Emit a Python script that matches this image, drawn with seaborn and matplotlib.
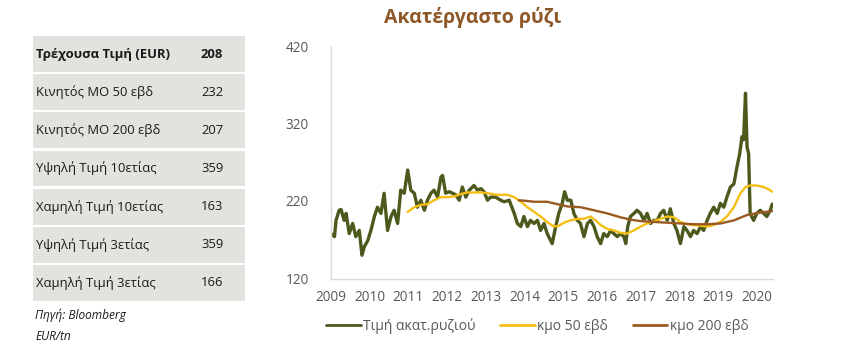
import numpy as np
import pandas as pd
import seaborn as sns
import matplotlib
matplotlib.use("Agg")
import matplotlib.pyplot as plt
from matplotlib.lines import Line2D

# ---------------- data ----------------
price_t = [2009.00, 2009.09, 2009.13, 2009.21, 2009.26, 2009.34, 2009.39, 2009.47, 2009.56, 2009.64,
           2009.73, 2009.80, 2009.86, 2009.95, 2010.03, 2010.12, 2010.20, 2010.29, 2010.37, 2010.46,
           2010.55, 2010.63, 2010.72, 2010.80, 2010.89, 2010.98, 2011.06, 2011.15, 2011.23, 2011.32,
           2011.41, 2011.49, 2011.58, 2011.66, 2011.75, 2011.84, 2011.88, 2011.96, 2012.05, 2012.14,
           2012.22, 2012.31, 2012.39, 2012.48, 2012.57, 2012.69, 2012.78, 2012.87, 2012.95, 2013.04,
           2013.12, 2013.25, 2013.38, 2013.47, 2013.60, 2013.73, 2013.81, 2013.90, 2013.98, 2014.07,
           2014.15, 2014.24, 2014.33, 2014.41, 2014.50, 2014.58, 2014.67, 2014.71, 2014.80, 2014.88,
           2014.97, 2015.03, 2015.10, 2015.19, 2015.27, 2015.36, 2015.44, 2015.53, 2015.62, 2015.70,
           2015.79, 2015.87, 2015.96, 2016.04, 2016.13, 2016.22, 2016.30, 2016.39, 2016.47, 2016.56,
           2016.61, 2016.66, 2016.73, 2016.82, 2016.90, 2016.99, 2017.08, 2017.16, 2017.25, 2017.33,
           2017.42, 2017.51, 2017.59, 2017.68, 2017.76, 2017.85, 2017.93, 2018.02, 2018.11, 2018.19,
           2018.28, 2018.36, 2018.45, 2018.54, 2018.62, 2018.71, 2018.79, 2018.88, 2018.97, 2019.05,
           2019.14, 2019.22, 2019.31, 2019.40, 2019.48, 2019.55, 2019.61, 2019.65, 2019.70, 2019.74,
           2019.78, 2019.82, 2019.91, 2019.99, 2020.08, 2020.17, 2020.25, 2020.34, 2020.39]
price_v = [178, 174, 195, 208, 209, 195, 204, 178, 191, 174,
           182, 150, 161, 169, 182, 200, 212, 204, 230, 182,
           200, 208, 191, 234, 230, 260, 234, 230, 212, 221,
           208, 221, 230, 234, 225, 251, 253, 230, 232, 230,
           228, 221, 238, 225, 234, 240, 234, 236, 232, 221,
           225, 225, 221, 219, 221, 204, 191, 187, 200, 187,
           195, 191, 195, 182, 191, 178, 169, 165, 187, 204,
           217, 232, 221, 221, 204, 195, 191, 174, 191, 195,
           187, 174, 165, 178, 174, 182, 178, 174, 178, 174,
           165, 187, 200, 204, 208, 204, 195, 204, 191, 195,
           195, 204, 208, 195, 210, 191, 182, 165, 187, 182,
           174, 182, 178, 187, 182, 195, 204, 212, 204, 217,
           212, 225, 238, 242, 264, 281, 303, 299, 359, 290,
           281, 204, 195, 204, 208, 204, 200, 208, 216]

ma50_t = [2010.98, 2011.15, 2011.32, 2011.49, 2011.66, 2011.84, 2012.01, 2012.18, 2012.35, 2012.52,
          2012.69, 2012.87, 2013.04, 2013.29, 2013.55, 2013.73, 2013.90, 2014.07, 2014.24, 2014.41,
          2014.58, 2014.75, 2014.88, 2015.01, 2015.18, 2015.36, 2015.53, 2015.70, 2015.83, 2015.96,
          2016.13, 2016.30, 2016.47, 2016.64, 2016.82, 2016.99, 2017.16, 2017.33, 2017.51, 2017.68,
          2017.85, 2018.02, 2018.19, 2018.36, 2018.54, 2018.71, 2018.88, 2019.05, 2019.22, 2019.40,
          2019.57, 2019.70, 2019.82, 2019.99, 2020.17, 2020.30, 2020.39]
ma50_v = [206, 212, 215, 216, 221, 225, 225, 226, 229, 231,
          231, 231, 230, 228, 228, 225, 219, 212, 206, 200,
          193, 187, 188, 192, 195, 197, 197, 200, 195, 189,
          184, 182, 179, 178, 182, 187, 191, 194, 197, 200,
          199, 193, 190, 189, 188, 187, 189, 193, 200, 212,
          230, 238, 240, 240, 238, 235, 232]

ma200_t = [2013.85, 2014.07, 2014.24, 2014.58, 2014.84, 2015.10, 2015.44, 2015.79, 2016.13, 2016.47,
           2016.73, 2016.99, 2017.33, 2017.68, 2018.02, 2018.36, 2018.71, 2019.05, 2019.40, 2019.74,
           2020.08, 2020.39]
ma200_v = [221, 220, 219, 219, 216, 213, 212, 208, 204, 199,
           196, 194, 193, 192, 191, 190, 190, 191, 195, 202,
           205, 207]

year_ticks = list(range(2009, 2021))
y_ticks = [120, 220, 320, 420]

table_labels = ["Τρέχουσα Τιμή (EUR)", "Κινητός ΜΟ 50 εβδ", "Κινητός ΜΟ 200 εβδ",
                "Υψηλή Τιμή 10ετίας", "Χαμηλή Τιμή 10ετίας", "Υψηλή Τιμή 3ετίας",
                "Χαμηλή Τιμή 3ετίας"]
table_values = [208, 232, 207, 359, 163, 359, 166]

series_names = ["Τιμή ακατ.ρυζιού", "κμο 50 εβδ", "κμο 200 εβδ"]
colors = ["#4B5A1C", "#F5BE14", "#9A5A22"]

# ---------------- figure ----------------
sns.set_theme(style="white")
plt.rcParams["font.family"] = ["Open Sans", "DejaVu Sans"]

W, H = 856, 352
fig = plt.figure(figsize=(W / 100, H / 100), dpi=100)

def fx(px):
    return px / W

def fy(py):
    return 1 - py / H

# chart axes
ax = fig.add_axes([fx(331), fy(278.5), fx(773) - fx(331), fy(46) - fy(278.5)])

df = pd.concat([
    pd.DataFrame({"t": price_t, "v": price_v, "s": series_names[0]}),
    pd.DataFrame({"t": ma50_t, "v": ma50_v, "s": series_names[1]}),
    pd.DataFrame({"t": ma200_t, "v": ma200_v, "s": series_names[2]}),
])
sns.lineplot(data=df[df.s == series_names[0]], x="t", y="v", ax=ax, color=colors[0],
             linewidth=2.4, estimator=None, sort=False, legend=False)
sns.lineplot(data=df[df.s == series_names[1]], x="t", y="v", ax=ax, color=colors[1],
             linewidth=1.7, estimator=None, sort=False, legend=False)
sns.lineplot(data=df[df.s == series_names[2]], x="t", y="v", ax=ax, color=colors[2],
             linewidth=1.7, estimator=None, sort=False, legend=False)

ax.set_xlim(2009.0, 2020.41)
ax.set_ylim(120, 420)
ax.set_xticks(year_ticks)
ax.set_xticklabels([str(y) for y in year_ticks])
ax.set_yticks(y_ticks)
ax.set_xlabel("")
ax.set_ylabel("")
ax.tick_params(axis="both", length=0, labelsize=9.8, colors="#595959")
ax.tick_params(axis="x", pad=8)
ax.tick_params(axis="y", pad=16)
for side in ["top", "right"]:
    ax.spines[side].set_visible(False)
for side in ["left", "bottom"]:
    ax.spines[side].set_color("#D9D9D9")
    ax.spines[side].set_linewidth(1.0)
ax.grid(False)

handles = [Line2D([0], [0], color=c, lw=2) for c in colors]
fig.legend(handles, series_names, loc="center", bbox_to_anchor=(fx(537), fy(326)),
           ncol=3, frameon=False, fontsize=10, handlelength=2.5, handletextpad=0.15,
           columnspacing=1.8, labelcolor="#595959")

fig.text(fx(473), fy(17), "Ακατέργαστο ρύζι", ha="center", va="center",
         fontsize=14, fontweight="bold", color="#8E5726")

# table axes
tax = fig.add_axes([fx(33), fy(302), fx(245) - fx(33), fy(35) - fy(302)])
n = len(table_labels)
rows = np.arange(n)
tax.barh(rows, [1] * n, left=0, height=0.94, color="#E3E2DE", edgecolor="none")
tax.set_xlim(0, 1)
tax.set_ylim(n - 0.5, -0.5)
tax.axis("off")
for i, (lab, val) in enumerate(zip(table_labels, table_values)):
    w = "bold" if i == 0 else "normal"
    tax.text(0.015, i, lab, ha="left", va="center", fontsize=9.4, fontweight=w, color="#1a1a1a")
    tax.text(0.845, i, str(val), ha="center", va="center", fontsize=9.4, fontweight=w, color="#1a1a1a")

fig.text(fx(35), fy(315), "Πηγή: Bloomberg", ha="left", va="center", fontsize=8.6,
         style="italic", color="#1a1a1a")
fig.text(fx(35), fy(337), "EUR/tn", ha="left", va="center", fontsize=8.6,
         style="italic", color="#1a1a1a")

fig.savefig("out.png", dpi=100)
